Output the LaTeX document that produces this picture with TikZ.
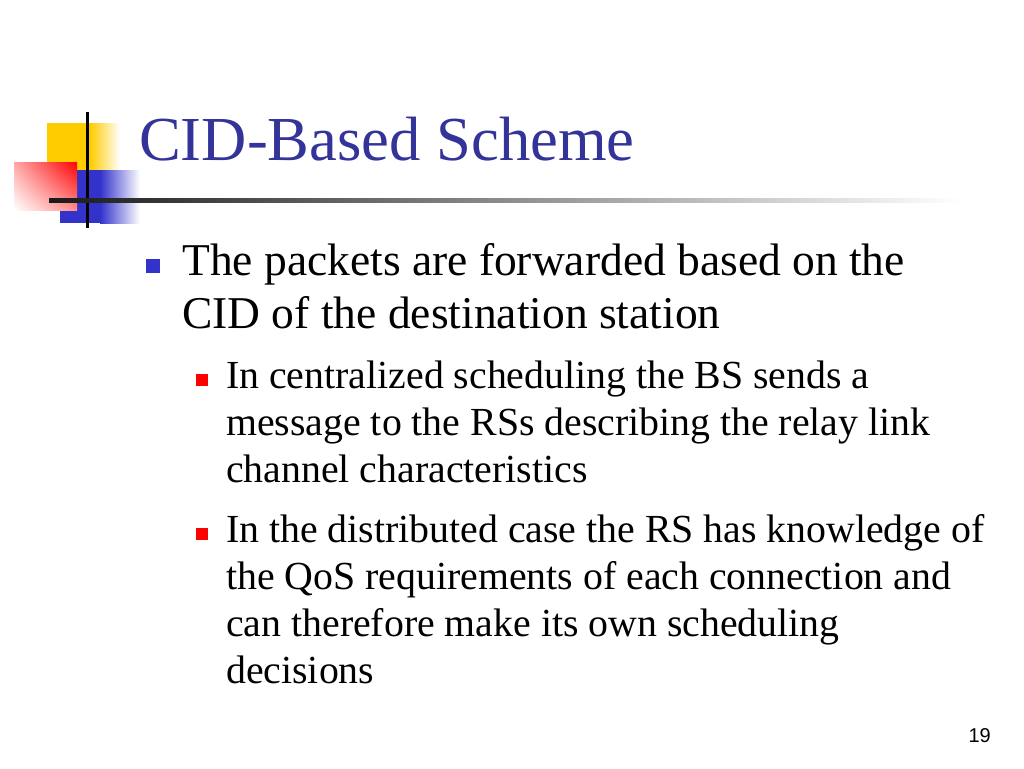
\documentclass[tikz,border=0pt]{standalone}
\usepackage{fontspec}
\setmainfont{Liberation Serif}
\setsansfont{Liberation Sans}
\usetikzlibrary{shadings}
\definecolor{titleblue}{HTML}{333399}
\definecolor{logoblue}{HTML}{3333CC}
\definecolor{logoyellow}{HTML}{FFCC00}
\tikzset{
  slidetitle/.style={anchor=base west, inner sep=0, text=titleblue, font=\fontsize{62.6}{70}\selectfont},
  lvlone/.style={anchor=base west, inner sep=0, font=\fontsize{45.5}{53}\selectfont},
  lvltwo/.style={anchor=base west, inner sep=0, font=\fontsize{39.8}{47}\selectfont},
}
\begin{document}
\begin{tikzpicture}[x=1pt, y=-1pt]
            \useasboundingbox[fill=white] (0,0) rectangle (1024,768);
            % logo
            \fill[logoyellow] (47,123) rectangle (90,172);
            \shade[left color=logoyellow, right color=white] (90,123) rectangle (120,172);
            \fill[logoblue] (60,170) rectangle (100,223);
            \shade[left color=logoblue, right color=white] (100,170) rectangle (140,223);
            \shade[upper right=red, upper left=red!35, lower right=red!45, lower left=white] (14,162) rectangle (77,210);
            \draw[line width=3pt] (87,112) -- (87,228);
            \shade[left color=black!90, right color=white] (49,198) rectangle (960,202);
            % title
            \node[slidetitle] (title) at (139,160) {CID-Based Scheme};
            % bullets
            \fill[logoblue] (146,259) rectangle (160,273);
            \node[lvlone] (p1a) at (182,275) {The packets are forwarded based on the};
            \node[lvlone] (p1b) at (182,328) {CID of the destination station};
            \fill[red] (196,374) rectangle (208,386);
            \node[lvltwo] (p2a) at (226,388) {In centralized scheduling the BS sends a};
            \node[lvltwo] (p2b) at (226,435) {message to the RSs describing the relay link};
            \node[lvltwo] (p2c) at (226,482) {channel characteristics};
            \fill[red] (196,528) rectangle (208,540);
            \node[lvltwo] (p3a) at (226,542) {In the distributed case the RS has knowledge of};
            \node[lvltwo] (p3b) at (226,589) {the QoS requirements of each connection and};
            \node[lvltwo] (p3c) at (226,636) {can therefore make its own scheduling};
            \node[lvltwo] (p3d) at (226,683) {decisions};
            % page number
            \node[anchor=base east, inner sep=0, font=\sffamily\fontsize{20}{24}\selectfont] (page) at (991,742) {19};
        \end{tikzpicture}
\end{document}
